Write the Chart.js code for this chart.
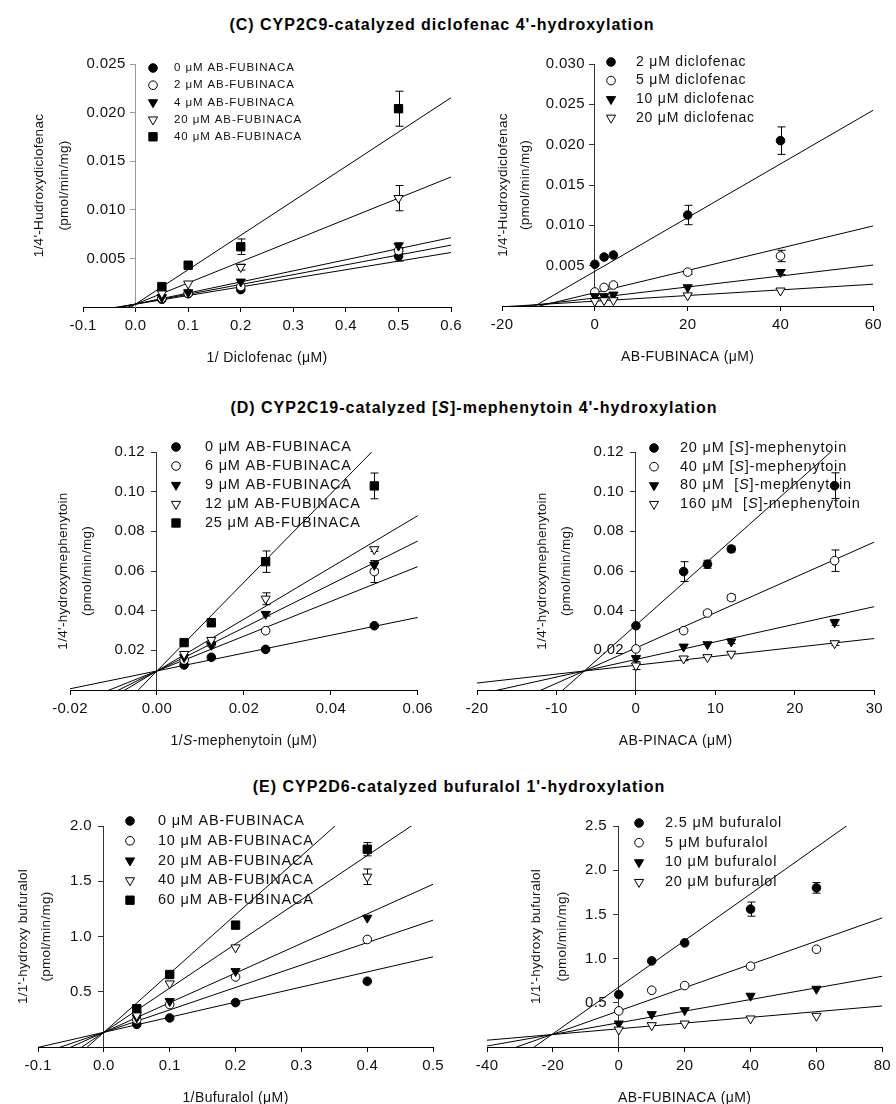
<!DOCTYPE html>
<html lang="en">
<head>
<meta charset="UTF-8">
<title>AB-FUBINACA inhibition kinetics</title>
<script src="https://cdn.jsdelivr.net/npm/chart.js@4/dist/chart.umd.min.js"></script>
<style>
  body { margin: 0; background: #fff; }
  #page { position: relative; width: 896px; height: 1104px; overflow: hidden; font-family: "Liberation Sans", Arial, sans-serif; }
  .head { position: absolute; width: 640px; text-align: center; font-weight: bold; font-size: 16px; letter-spacing: 1px; line-height: 20px; color: #000; }
  canvas { position: absolute; }
</style>
</head>
<body>
<div id="page">
  <div class="head" style="left:122px;top:15px">(C) CYP2C9-catalyzed diclofenac 4'-hydroxylation</div>
  <div class="head" style="left:154px;top:398px">(D) CYP2C19-catalyzed [<i>S</i>]-mephenytoin 4'-hydroxylation</div>
  <div class="head" style="left:139px;top:777px">(E) CYP2D6-catalyzed bufuralol 1'-hydroxylation</div>
</div>
<script>
// ---- (C) CYP2C9, diclofenac 4'-hydroxylation ----
const cInvDiclofenac = [0.05, 0.1, 0.2, 0.5];
const cLeftLabels = ['0 μM AB-FUBINACA', '2 μM AB-FUBINACA', '4 μM AB-FUBINACA', '20 μM AB-FUBINACA', '40 μM AB-FUBINACA'];
const cLeftY = [
  [0.00079, 0.00137, 0.00179, 0.00522],
  [0.0009, 0.0014, 0.0021, 0.0058],
  [0.0010, 0.0015, 0.0026, 0.0063],
  [0.0014, 0.0024, 0.0041, 0.0112],
  [0.0021, 0.0043, 0.0062, 0.0204]
];
const cLeftErr = [
  [0, 0, 0, 0.0005],
  [0, 0, 0, 0.0003],
  [0, 0, 0, 0.0003],
  [0, 0, 0.0003, 0.0013],
  [0, 0, 0.0008, 0.0018]
];
const cLeftSlope = [0.00884, 0.0101, 0.0114, 0.0218, 0.0354];
const cLeftIntercept = [0.0003, 0.0003, 0.0003, 0.0003, 0.0003];

const cAbFubinaca = [0, 2, 4, 20, 40];
const cRightLabels = ['2 μM diclofenac', '5 μM diclofenac', '10 μM diclofenac', '20 μM diclofenac'];
const cRightY = [
  [0.00517, 0.00607, 0.00632, 0.01128, 0.0205],
  [0.00174, 0.0023, 0.0026, 0.0042, 0.0062],
  [0.0012, 0.0012, 0.0014, 0.0023, 0.0042],
  [0.0006, 0.0007, 0.0007, 0.0013, 0.0019]
];
const cRightErr = [
  [0, 0, 0, 0.0012, 0.0017],
  [0, 0, 0, 0.0003, 0.0007],
  [0, 0, 0, 0, 0.0003],
  [0, 0, 0, 0, 0]
];
const cRightSlope = [0.000333, 0.000138, 0.000068, 0.000035];
const cRightIntercept = [0.0043, 0.00165, 0.0010, 0.0006];

// ---- (D) CYP2C19, [S]-mephenytoin 4'-hydroxylation ----
const dInvMephenytoin = [0.00625, 0.0125, 0.025, 0.05];
const dLeftLabels = ['0 μM AB-FUBINACA', '6 μM AB-FUBINACA', '9 μM AB-FUBINACA', '12 μM AB-FUBINACA', '25 μM AB-FUBINACA'];
const dLeftY = [
  [0.0126, 0.0165, 0.0205, 0.0324],
  [0.0151, 0.0232, 0.0299, 0.0597],
  [0.0165, 0.0227, 0.0383, 0.0630],
  [0.0181, 0.0252, 0.0460, 0.0709],
  [0.0239, 0.0339, 0.0647, 0.1029]
];
const dLeftErr = [
  [0, 0, 0, 0],
  [0, 0, 0, 0.0055],
  [0, 0, 0.001, 0.002],
  [0, 0, 0.003, 0.001],
  [0, 0, 0.0054, 0.0065]
];
const dLeftSlope = [0.45, 0.877, 1.092, 1.305, 2.235];
const dLeftIntercept = [0.0096, 0.0096, 0.0096, 0.0096, 0.0096];

const dAbPinaca = [0, 6, 9, 12, 25];
const dRightLabels = ['20 μM [<i>S</i>]-mephenytoin', '40 μM [<i>S</i>]-mephenytoin', '80 μM  [<i>S</i>]-mephenytoin', '160 μM  [<i>S</i>]-mephenytoin'];
const dRightY = [
  [0.0324, 0.0597, 0.0634, 0.0711, 0.1030],
  [0.0207, 0.0299, 0.0388, 0.0466, 0.0652],
  [0.0160, 0.0218, 0.0230, 0.0244, 0.0341],
  [0.0123, 0.0158, 0.0165, 0.0182, 0.0235]
];
const dRightErr = [
  [0, 0.005, 0.002, 0.0015, 0.0065],
  [0, 0, 0.001, 0.0015, 0.0054],
  [0, 0, 0, 0.001, 0.0015],
  [0.002, 0.001, 0, 0, 0.001]
];
const dRightSlope = [0.00356, 0.00178, 0.000888, 0.000449];
const dRightIntercept = [0.0327, 0.0212, 0.0154, 0.0125];

// ---- (E) CYP2D6, bufuralol 1'-hydroxylation ----
const eInvBufuralol = [0.05, 0.1, 0.2, 0.4];
const eLeftLabels = ['0 μM AB-FUBINACA', '10 μM AB-FUBINACA', '20 μM AB-FUBINACA', '40 μM AB-FUBINACA', '60 μM AB-FUBINACA'];
const eLeftY = [
  [0.205, 0.263, 0.402, 0.595],
  [0.248, 0.384, 0.634, 0.973],
  [0.266, 0.414, 0.686, 1.169],
  [0.287, 0.574, 0.900, 1.541],
  [0.347, 0.656, 1.103, 1.790]
];
const eLeftErr = [
  [0, 0, 0, 0],
  [0, 0, 0, 0],
  [0, 0, 0, 0],
  [0, 0, 0, 0.07],
  [0, 0, 0, 0.06]
];
const eLeftSlope = [1.366, 2.03, 2.68, 4.0, 5.32];
const eLeftIntercept = [0.133, 0.133, 0.133, 0.133, 0.133];

const eAbFubinaca = [0, 10, 20, 40, 60];
const eRightLabels = ['2.5 μM bufuralol', '5 μM bufuralol', '10 μM bufuralol', '20 μM bufuralol'];
const eRightY = [
  [0.593, 0.974, 1.178, 1.560, 1.800],
  [0.408, 0.642, 0.695, 0.914, 1.106],
  [0.264, 0.370, 0.415, 0.578, 0.657],
  [0.196, 0.245, 0.264, 0.321, 0.351]
];
const eRightErr = [
  [0, 0, 0, 0.08, 0.06],
  [0, 0, 0, 0, 0],
  [0, 0, 0, 0, 0],
  [0, 0, 0, 0, 0]
];
const eRightSlope = [0.02638, 0.01316, 0.00658, 0.00323];
const eRightIntercept = [0.677, 0.408, 0.274, 0.206];

const FONT = '"Liberation Sans", Arial, sans-serif';
Chart.defaults.font.family = FONT;
Chart.defaults.color = '#111';

// filled circle, open circle, filled triangle down, open triangle down, filled square
const MARKERS = [
  { style: 'circle', r: 4.3, rot: 0, fill: '#000' },
  { style: 'circle', r: 4.3, rot: 0, fill: '#fff' },
  { style: 'triangle', r: 5.3, rot: 180, fill: '#000' },
  { style: 'triangle', r: 5.3, rot: 180, fill: '#fff' },
  { style: 'rect', r: 5.9, rot: 0, fill: '#000' }
];

function richParts(str) {
  return str.split(/(<i>.*?<\/i>)/).filter(Boolean).map(p =>
    p.startsWith('<i>') ? { t: p.slice(3, -4), it: true } : { t: p, it: false });
}
function drawRich(ctx, str, x, y, size, align) {
  const parts = richParts(str);
  const fontOf = it => (it ? 'italic ' : '') + size + 'px ' + FONT;
  let w = 0;
  parts.forEach(p => { ctx.font = fontOf(p.it); w += ctx.measureText(p.t).width; });
  let cx = align === 'center' ? x - w / 2 : x;
  ctx.textAlign = 'left';
  parts.forEach(p => {
    ctx.font = fontOf(p.it);
    ctx.fillText(p.t, cx, y);
    cx += ctx.measureText(p.t).width;
  });
}

const panelDeco = {
  id: 'panelDeco',
  beforeUpdate(chart) { chart.ctx.letterSpacing = '0.3px'; },
  beforeDraw(chart) { chart.ctx.letterSpacing = '0.3px'; },
  beforeDatasetsDraw(chart) {
    const ctx = chart.ctx, xs = chart.scales.x, ys = chart.scales.y;
    ctx.save();
    ctx.strokeStyle = '#000';
    ctx.lineWidth = 1;
    chart.data.datasets.forEach(ds => {
      if (!ds.errs) return;
      ds.data.forEach((pt, j) => {
        const e = ds.errs[j];
        if (!e) return;
        const px = Math.round(xs.getPixelForValue(pt.x)) + 0.5;
        const y1 = ys.getPixelForValue(pt.y + e), y2 = ys.getPixelForValue(pt.y - e);
        ctx.beginPath();
        ctx.moveTo(px, y1); ctx.lineTo(px, y2);
        ctx.moveTo(px - 4, y1); ctx.lineTo(px + 4, y1);
        ctx.moveTo(px - 4, y2); ctx.lineTo(px + 4, y2);
        ctx.stroke();
      });
    });
    ctx.restore();
  },
  afterDraw(chart, args, o) {
    const ctx = chart.ctx, area = chart.chartArea, ys = chart.scales.y;
    const y0 = chart.scales.x.getPixelForValue(0);
    ctx.save();
    ctx.fillStyle = '#111';
    ctx.textBaseline = 'middle';
    // y tick labels, left of the y axis that sits at x = 0
    ctx.letterSpacing = '0.3px';
    ctx.font = '15px ' + FONT;
    ctx.textAlign = 'right';
    ys.ticks.forEach(t => {
      ctx.fillText(t.value.toFixed(o.yDec), y0 - o.yGap, ys.getPixelForValue(t.value));
    });
    // legend inside plot
    ctx.letterSpacing = o.lgSpacing + 'px';
    let row = 0;
    chart.data.datasets.forEach(ds => {
      if (!ds.legendText) return;
      const y = o.lgY + row * o.lgDy;
      ctx.save();
      ctx.fillStyle = ds.pointBackgroundColor;
      ctx.strokeStyle = '#000';
      ctx.lineWidth = 1;
      Chart.helpers.drawPoint(ctx, { pointStyle: ds.pointStyle, radius: ds.pointRadius, rotation: ds.pointRotation, borderWidth: 1 }, o.lgX, y);
      ctx.restore();
      drawRich(ctx, ds.legendText, o.lgTx, y, o.lgSize, 'left');
      row++;
    });
    // y-axis title (two lines, rotated)
    ctx.letterSpacing = '0.3px';
    o.yTitle.forEach((line, k) => {
      ctx.save();
      ctx.translate(y0 + o.yTitleDx[k], (area.top + area.bottom) / 2);
      ctx.rotate(-Math.PI / 2);
      drawRich(ctx, line, 0, 0, 13.5, 'center');
      ctx.restore();
    });
    // x-axis title
    ctx.letterSpacing = '0.4px';
    drawRich(ctx, o.xTitle, (area.left + area.right) / 2, area.bottom + 51, 14, 'center');
    ctx.restore();
  }
};

const massYTitle = (name) => [name, '(pmol/min/mg)'];

const panels = [
  { area: [83, 455, 64, 307], x: cInvDiclofenac, ys: cLeftY, errs: cLeftErr, labels: cLeftLabels,
    slopes: cLeftSlope, icpts: cLeftIntercept, xr: [-0.1, 0.6, 0.1, 1], yr: [0.025, 0.005, 3], yColor: '#999', yGap: 10,
    xTitle: '1/ Diclofenac (μM)', yTitle: massYTitle("1/4'-Hudroxydiclofenac"), yTitleDx: [-96, -71],
    lg: { x: 153, y: 68, dy: 17.2, tx: 174, size: 11.5, sp: 0.9 } },
  { area: [502, 875, 64, 306], x: cAbFubinaca, ys: cRightY, errs: cRightErr, labels: cRightLabels,
    slopes: cRightSlope, icpts: cRightIntercept, xr: [-20, 60, 20, 0], yr: [0.030, 0.005, 3], yColor: '#333', yGap: 10,
    xTitle: 'AB-FUBINACA (μM)', yTitle: massYTitle("1/4'-Hudroxydiclofenac"), yTitleDx: [-92, -70],
    lg: { x: 611, y: 62, dy: 18.6, tx: 636, size: 14, sp: 0.8 } },
  { area: [70, 426, 452, 690], x: dInvMephenytoin, ys: dLeftY, errs: dLeftErr, labels: dLeftLabels,
    slopes: dLeftSlope, icpts: dLeftIntercept, xr: [-0.02, 0.06, 0.02, 2], yr: [0.12, 0.02, 2], yColor: '#333', yGap: 12,
    xTitle: '1/<i>S</i>-mephenytoin (μM)', yTitle: massYTitle("1/4'-hydroxymephenytoin"), yTitleDx: [-94, -70],
    lg: { x: 176, y: 447, dy: 19, tx: 205, size: 14.5, sp: 0.8 } },
  { area: [477, 876, 452, 690], x: dAbPinaca, ys: dRightY, errs: dRightErr, labels: dRightLabels,
    slopes: dRightSlope, icpts: dRightIntercept, xr: [-20, 30, 10, 0], yr: [0.12, 0.02, 2], yColor: '#333', yGap: 12,
    xTitle: 'AB-PINACA (μM)', yTitle: massYTitle("1/4'-hydroxymephenytoin"), yTitleDx: [-94, -70],
    lg: { x: 654, y: 448, dy: 18.7, tx: 680, size: 14.5, sp: 0.8 } },
  { area: [38, 437, 826, 1047], x: eInvBufuralol, ys: eLeftY, errs: eLeftErr, labels: eLeftLabels,
    slopes: eLeftSlope, icpts: eLeftIntercept, xr: [-0.1, 0.5, 0.1, 1], yr: [2.0, 0.5, 1], yColor: '#333', yGap: 12,
    xTitle: '1/Bufuralol (μM)', yTitle: massYTitle("1/1'-hydroxy bufuralol"), yTitleDx: [-81, -58],
    lg: { x: 130, y: 821, dy: 19.8, tx: 158, size: 14.5, sp: 0.8 } },
  { area: [487, 886, 826, 1047], x: eAbFubinaca, ys: eRightY, errs: eRightErr, labels: eRightLabels,
    slopes: eRightSlope, icpts: eRightIntercept, xr: [-40, 80, 20, 0], yr: [2.5, 0.5, 1], yColor: '#333', yGap: 12,
    xTitle: 'AB-FUBINACA (μM)', yTitle: massYTitle("1/1'-hydroxy bufuralol"), yTitleDx: [-83, -57],
    lg: { x: 639, y: 823, dy: 19.7, tx: 665, size: 14.5, sp: 0.8 } }
];

const fmt = d => v => (Math.abs(v) < 1e-9 ? 0 : v).toFixed(d);

function buildPanel(p) {
  const L = Math.max(0, p.area[0] - 85), T = p.area[2] - 30;
  const R = Math.min(896, p.area[1] + 12), B = Math.min(1104, p.area[3] + 62);
  const XH = 30;
  const canvas = document.createElement('canvas');
  canvas.width = R - L;
  canvas.height = B - T;
  canvas.style.left = L + 'px';
  canvas.style.top = T + 'px';
  document.getElementById('page').appendChild(canvas);

  const datasets = [];
  p.ys.forEach((vals, i) => {
    const m = MARKERS[i];
    datasets.push({
      label: p.labels[i], legendText: p.labels[i],
      data: p.x.map((xv, j) => ({ x: xv, y: vals[j] })),
      errs: p.errs[i],
      pointStyle: m.style, pointRadius: m.r, pointRotation: m.rot, pointHoverRadius: m.r,
      pointBackgroundColor: m.fill, pointBorderColor: '#000', pointBorderWidth: 1,
      showLine: false, order: 10 - i
    });
  });
  p.slopes.forEach((s, i) => {
    const b = p.icpts[i];
    datasets.push({
      label: 'fit ' + i,
      data: [p.xr[0], p.xr[1]].map(xv => ({ x: xv, y: b + s * xv })),
      showLine: true, pointRadius: 0, borderColor: '#000', borderWidth: 1, order: 20
    });
  });

  new Chart(canvas, {
    type: 'scatter',
    data: { datasets },
    options: {
      responsive: false, animation: false, devicePixelRatio: 1, events: [],
      layout: { padding: { left: p.area[0] - L, right: R - p.area[1], top: p.area[2] - T, bottom: B - p.area[3] - XH } },
      plugins: {
        legend: { display: false }, tooltip: { enabled: false },
        panelDeco: {
          lgX: p.lg.x - L, lgY: p.lg.y - T, lgDy: p.lg.dy, lgTx: p.lg.tx - L, lgSize: p.lg.size, lgSpacing: p.lg.sp,
          yTitle: p.yTitle, yTitleDx: p.yTitleDx, xTitle: p.xTitle, yDec: p.yr[2], yGap: p.yGap
        }
      },
      scales: {
        x: {
          type: 'linear', position: 'bottom', min: p.xr[0], max: p.xr[1],
          ticks: { stepSize: p.xr[2], callback: fmt(p.xr[3]), font: { size: 15 }, color: '#111', padding: 5, maxRotation: 0, autoSkip: false },
          grid: { display: true, drawOnChartArea: false, drawTicks: true, tickLength: 5, color: '#000' },
          border: { display: true, color: '#000', width: 1 },
          afterFit: s => { s.height = XH; }
        },
        y: {
          type: 'linear', position: { x: 0 }, min: 0, max: p.yr[0],
          ticks: { stepSize: p.yr[1], display: false },
          afterBuildTicks: s => { s.ticks = s.ticks.filter(t => Math.abs(t.value) > 1e-12); },
          grid: { display: true, drawOnChartArea: false, drawTicks: true, tickLength: 5, color: p.yColor },
          border: { display: true, color: p.yColor, width: 1 }
        }
      }
    },
    plugins: [panelDeco]
  });
}

panels.forEach(buildPanel);
</script>
</body>
</html>
